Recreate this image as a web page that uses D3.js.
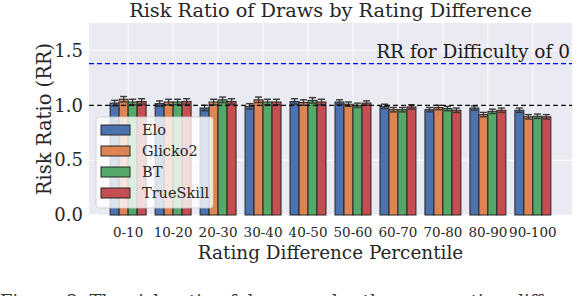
<!DOCTYPE html>
<html>
<head>
<meta charset="utf-8">
<script src="https://cdn.jsdelivr.net/npm/d3@7"></script>
<style>
  body { margin: 0; background: #fff; }
  svg { display: block; font-family: "DejaVu Serif", serif; }
</style>
</head>
<body>
<svg id="svg" width="578" height="296"></svg>
<script>
var categories = ['0-10', '10-20', '20-30', '30-40', '40-50', '50-60', '60-70', '70-80', '80-90', '90-100'];
var systems = ['Elo', 'Glicko2', 'BT', 'TrueSkill'];
var colors = ['#4C72B0', '#DD8452', '#55A868', '#C44E52'];

var eloVals = [1.02, 1.015, 0.975, 0.99, 1.035, 1.03, 0.99, 0.96, 0.975, 0.955];
var glickoVals = [1.055, 1.03, 1.03, 1.05, 1.025, 1.01, 0.96, 0.98, 0.915, 0.895];
var btVals = [1.03, 1.03, 1.05, 1.03, 1.045, 1.0, 0.96, 0.97, 0.945, 0.9];
var tsVals = [1.035, 1.035, 1.035, 1.03, 1.03, 1.02, 0.985, 0.955, 0.955, 0.895];
var errVals = [0.025, 0.025, 0.025, 0.025, 0.025, 0.02, 0.02, 0.02, 0.02, 0.02];

var yTicks = [0.0, 0.5, 1.0, 1.5];
var rrDifficulty0 = 1.38;
var baseline = 1.0;

var series = [eloVals, glickoVals, btVals, tsVals];

function draw() {
    var svg = d3.select('#svg');
    var left = 89, right = 572, plotTop = 23, plotBottom = 215;

    var x = d3.scaleLinear().domain([-0.87, 9.87]).range([left, right]);
    var y = d3.scaleLinear().domain([0, 1.75]).range([plotBottom, plotTop]);

    // background
    svg.append('rect')
        .attr('x', left).attr('y', plotTop)
        .attr('width', right - left).attr('height', plotBottom - plotTop)
        .attr('fill', '#EAEAF2');

    // grid
    var grid = svg.append('g');
    grid.selectAll('line.h').data(yTicks).enter().append('line')
        .attr('x1', left).attr('x2', right)
        .attr('y1', d => y(d)).attr('y2', d => y(d))
        .attr('stroke', '#fff').attr('stroke-width', 1);
    grid.selectAll('line.v').data(categories).enter().append('line')
        .attr('x1', (d, i) => x(i)).attr('x2', (d, i) => x(i))
        .attr('y1', plotTop).attr('y2', plotBottom)
        .attr('stroke', '#fff').attr('stroke-width', 1);

    // bars
    var bw = 0.2;
    series.forEach(function (vals, s) {
        var g = svg.append('g');
        g.selectAll('rect').data(vals).enter().append('rect')
            .attr('x', (d, i) => x(i + (s - 2) * bw))
            .attr('width', x(bw) - x(0))
            .attr('y', d => y(d))
            .attr('height', d => y(0) - y(d))
            .attr('fill', colors[s])
            .attr('stroke', '#262626')
            .attr('stroke-width', 1);
    });
    // error bars
    series.forEach(function (vals, s) {
        var eb = svg.append('g').attr('stroke', '#3a3a3a').attr('stroke-width', 1.4);
        vals.forEach(function (d, i) {
            var cx = x(i + (s - 1.5) * bw);
            var e = errVals[i];
            eb.append('line').attr('x1', cx).attr('x2', cx).attr('y1', y(d - e)).attr('y2', y(d + e));
            eb.append('line').attr('x1', cx - 3.5).attr('x2', cx + 3.5).attr('y1', y(d - e)).attr('y2', y(d - e));
            eb.append('line').attr('x1', cx - 3.5).attr('x2', cx + 3.5).attr('y1', y(d + e)).attr('y2', y(d + e));
        });
    });

    // reference lines
    svg.append('line')
        .attr('x1', left).attr('x2', right)
        .attr('y1', y(baseline)).attr('y2', y(baseline))
        .attr('stroke', '#000').attr('stroke-width', 1.2)
        .attr('stroke-dasharray', '5,3');
    svg.append('line')
        .attr('x1', left).attr('x2', right)
        .attr('y1', y(rrDifficulty0)).attr('y2', y(rrDifficulty0))
        .attr('stroke', '#0000ff').attr('stroke-width', 1.2)
        .attr('stroke-dasharray', '5,3');
    svg.append('text')
        .attr('x', 570).attr('y', y(rrDifficulty0) - 6)
        .attr('text-anchor', 'end')
        .attr('font-size', 18.5).attr('fill', '#1a1a1a')
        .text('RR for Difficulty of 0');

    // axes
    var yAxis = svg.append('g');
    yAxis.selectAll('text').data(yTicks).enter().append('text')
        .attr('x', left - 6).attr('y', d => y(d))
        .attr('dy', '0.35em').attr('text-anchor', 'end')
        .attr('font-size', 18).attr('fill', '#262626')
        .text(d => d.toFixed(1));

    var xAxis = svg.append('g');
    xAxis.selectAll('text').data(categories).enter().append('text')
        .attr('x', (d, i) => x(i)).attr('y', 237)
        .attr('text-anchor', 'middle')
        .attr('font-size', 13.5).attr('fill', '#262626')
        .text(d => d);

    svg.append('text')
        .attr('x', (left + right) / 2).attr('y', 259)
        .attr('text-anchor', 'middle')
        .attr('font-size', 18.4).attr('fill', '#262626')
        .text('Rating Difference Percentile');

    svg.append('text')
        .attr('transform', 'translate(51,' + ((plotTop + plotBottom) / 2) + ') rotate(-90)')
        .attr('text-anchor', 'middle')
        .attr('font-size', 19.5).attr('fill', '#262626')
        .text('Risk Ratio (RR)');

    svg.append('text')
        .attr('x', (left + right) / 2).attr('y', 17)
        .attr('text-anchor', 'middle')
        .attr('font-size', 19.3).attr('fill', '#262626')
        .text('Risk Ratio of Draws by Rating Difference');

    // legend
    var lg = svg.append('g');
    lg.append('rect')
        .attr('x', 96).attr('y', 117).attr('width', 117).attr('height', 91)
        .attr('rx', 3)
        .attr('fill', '#fff').attr('fill-opacity', 0.8)
        .attr('stroke', '#cccccc').attr('stroke-opacity', 0.8);
    systems.forEach(function (name, i) {
        var yy = 130 + i * 21;
        lg.append('rect')
            .attr('x', 101).attr('y', yy - 5).attr('width', 29).attr('height', 10)
            .attr('fill', colors[i]).attr('stroke', '#262626').attr('stroke-width', 1);
        lg.append('text')
            .attr('x', 142).attr('y', yy).attr('dy', '0.35em')
            .attr('font-size', 14.5).attr('fill', '#262626')
            .text(name);
    });

    // figure caption (cut off at bottom)
    svg.append('text')
        .attr('x', 0).attr('y', 308)
        .attr('font-size', 18).attr('fill', '#333')
        .text('Figure 3: The risk ratio of draws under the same rating difference');
}
draw();
</script>
</body>
</html>
